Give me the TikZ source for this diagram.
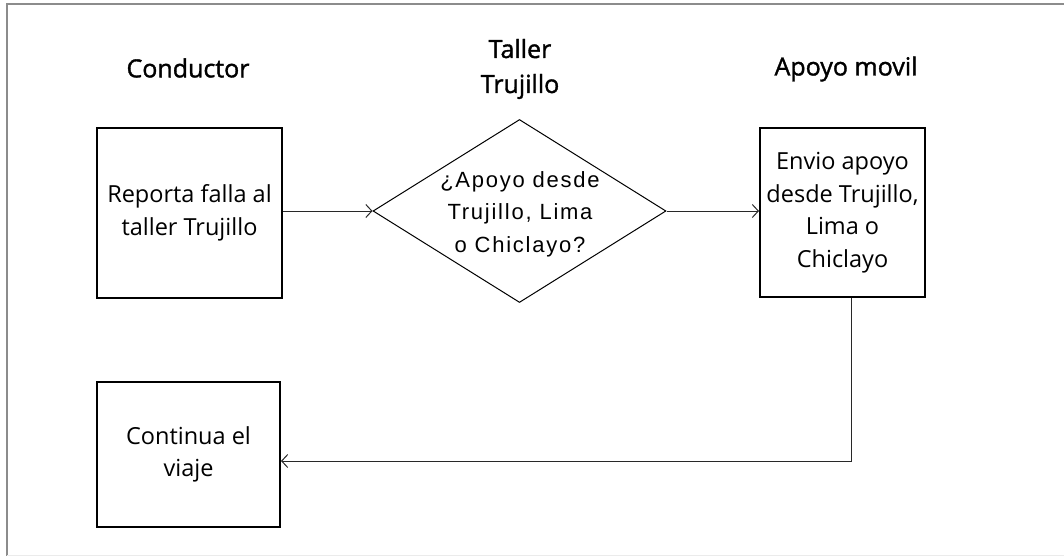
\documentclass[tikz,border=0pt]{standalone}
\usepackage{fontspec}
\setmainfont{Open Sans}
\newfontfamily\headfont[FakeBold=1.4]{Open Sans}
\newfontfamily\qfont[LetterSpace=8]{Liberation Sans}
\usetikzlibrary{shapes.geometric,arrows.meta,calc}

\definecolor{framegray}{RGB}{140,140,140}
\definecolor{linegray}{RGB}{40,40,40}

\tikzset{
  procbox/.style={draw=black, line width=2pt, rectangle, align=center,
    font=\fontsize{23.5}{32.5}\selectfont, inner sep=0pt},
  decision/.style={draw=black, line width=1pt, diamond, inner sep=0pt},
  qtext/.style={align=center, font=\qfont\fontsize{22}{32.5}\selectfont},
  heading/.style={align=center, font=\headfont\fontsize{25}{35}\selectfont},
  flow/.style={draw=linegray, line width=1pt,
    -{Straight Barb[length=6pt,width=13pt,line width=1pt]}},
}

\begin{document}
\begin{tikzpicture}[x=1pt, y=-1pt]
  \useasboundingbox (0,0) rectangle (1064,556);

  % outer frame
  \draw[framegray, line width=2pt] (1064,4) -- (7,4) -- (7,556);
  \draw[black!8, line width=1pt] (7,555) -- (1064,555);

  % lane headings
  \node[heading] (hcond) at (188,68) {Conductor};
  \node[heading] (htall) at (520,69) {Taller\\Trujillo};
  \node[heading] (hapoy) at (846,69) {Apoyo movil};

  % process steps
  \node[procbox, minimum width=185pt, minimum height=170pt] (b1) at (189.5,213)
    {Reporta falla al\\taller Trujillo};
  \node[decision, minimum width=293pt, minimum height=183pt] (dia) at (519.5,211) {};
  \node[qtext] (dtext) at (520,214) {¿Apoyo desde\\Trujillo, Lima\\o Chiclayo?};
  \node[procbox, minimum width=165pt, minimum height=169pt] (b3) at (842.5,212.5)
    {Envio apoyo\\desde Trujillo,\\Lima o\\Chiclayo};
  \node[procbox, minimum width=183pt, minimum height=145pt] (b4) at (188.5,454.5)
    {Continua el\\viaje};

  % connectors
  \draw[flow] (b1.east |- dia.west) -- (dia.west);
  \draw[flow] (dia.east) -- (dia.east -| b3.west);
  \coordinate (turn) at (851,461);
  \draw[flow] (b3.south -| turn) -- (turn) -- (turn -| b4.east);
\end{tikzpicture}
\end{document}
